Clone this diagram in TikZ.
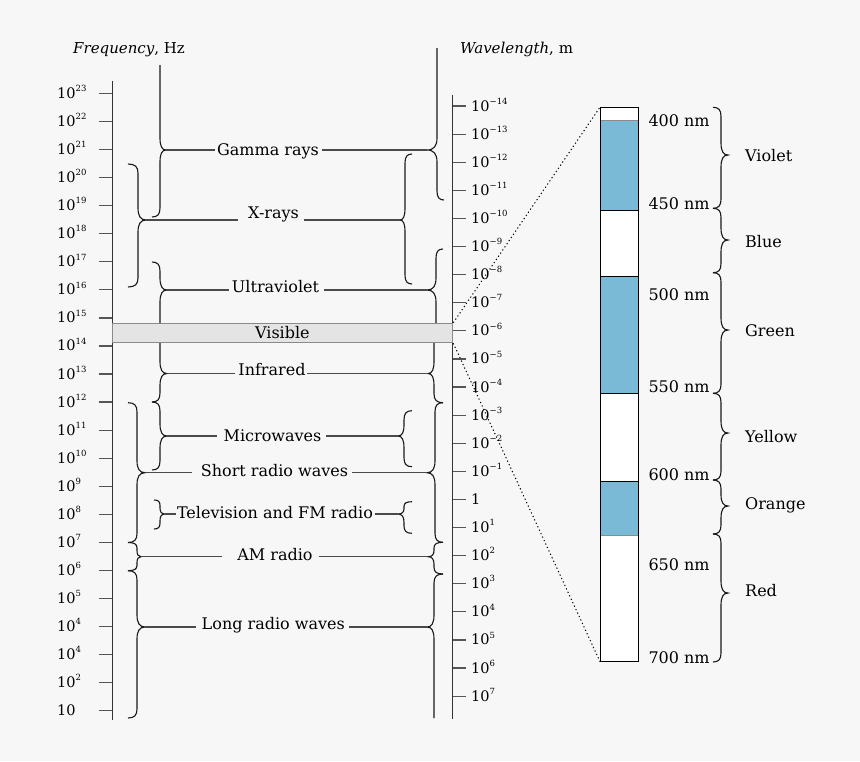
\documentclass[tikz,border=0pt]{standalone}
\usepackage{fontspec}
\setmainfont{DejaVu Serif}
\definecolor{bgcol}{HTML}{F7F7F7}
\definecolor{vblue}{HTML}{7BBAD6}
\definecolor{bandgray}{HTML}{E4E4E4}
\definecolor{bandline}{HTML}{8A8A8A}
\definecolor{linegray}{HTML}{4A4A4A}
\definecolor{tickgray}{HTML}{555555}
\newcommand{\sprs}[1]{\raisebox{0.9ex}{\fontsize{8.5}{9}\selectfont #1}}
% #1 stem x, #2 top y, #3 bottom y, #4 tip y, #5 side (+1 tip right, -1 tip left), #6 tip amplitude, #7 top hook, #8 bottom hook, #9 tip name
\newcommand{\specbr}[9]{%
  \pgfmathsetmacro\bxa{#1-(#5)*(#7)}%
  \pgfmathsetmacro\bxb{#1-(#5)*(#8)}%
  \pgfmathsetmacro\bxt{#1+(#5)*(#6)}%
  \pgfmathsetmacro\bca{#1-(#5)*(#7)*0.3}%
  \pgfmathsetmacro\bcb{#1-(#5)*(#8)*0.3}%
  \pgfmathsetmacro\bcc{#1+(#5)*(#6)*0.3}%
  \pgfmathsetmacro\bct{min(12,(#4-#2)/2.3)}%
  \pgfmathsetmacro\bcd{min(12,(#3-#4)/2.3)}%
  \pgfmathsetmacro\bht{min(9,(#4-#2)/2.6)}%
  \pgfmathsetmacro\bhb{min(9,(#3-#4)/2.6)}%
  \draw[bracestyle] (\bxa,#2) .. controls (\bca,#2) and (#1,#2+\bht*0.3) .. (#1,#2+\bht)
    -- (#1,#4-\bct) .. controls (#1,#4-\bct*0.35) and (\bcc,#4) .. (\bxt,#4) coordinate (#9)
    .. controls (\bcc,#4) and (#1,#4+\bcd*0.35) .. (#1,#4+\bcd)
    -- (#1,#3-\bhb) .. controls (#1,#3-\bhb*0.3) and (\bcb,#3) .. (\bxb,#3);%
}
\begin{document}
\begin{tikzpicture}[x=1pt,y=-1pt,
  bracestyle/.style={line width=1.1pt, black!90},
  conn/.style={line width=1.1pt, linegray},
  axisline/.style={line width=1pt, black!80},
  tickmark/.style={line width=1.2pt, tickgray},
  lbl/.style={font=\fontsize{16}{18}\selectfont, inner sep=0pt},
  num/.style={font=\fontsize{14.5}{16}\selectfont, inner sep=0pt, anchor=base west},
  ttl/.style={font=\fontsize{15}{17}\selectfont, inner sep=0pt, anchor=base west},
  barline/.style={line width=0.9pt, black},
  dotline/.style={line width=1pt, dash pattern=on 1.2pt off 2.6pt},
]
\fill[bgcol] (0,0) rectangle (860,761);
\useasboundingbox (0,0) rectangle (860,761);

% titles
\node[ttl] (ftitle) at (73,53) {\textit{Frequency}, Hz};
\node[ttl] (wtitle) at (460,53) {\textit{Wavelength}, m};

% axes
\draw[axisline] (112,80.7) -- (112,720);
\draw[axisline] (452.7,95) -- (452.7,719);

\foreach \lab [count=\i from 0] in {{10\sprs{23}},{10\sprs{22}},{10\sprs{21}},{10\sprs{20}},{10\sprs{19}},{10\sprs{18}},{10\sprs{17}},{10\sprs{16}},{10\sprs{15}},{10\sprs{14}},{10\sprs{13}},{10\sprs{12}},{10\sprs{11}},{10\sprs{10}},{10\sprs{9}},{10\sprs{8}},{10\sprs{7}},{10\sprs{6}},{10\sprs{5}},{10\sprs{4}},{10\sprs{4}},{10\sprs{2}},{10}} {
  \pgfmathsetmacro\yy{93.5+28.05*\i}
  \draw[tickmark] (99.3,\yy) -- (112,\yy);
  \node[num] (fl\i) at (57,\yy+5) {\lab};
}
\foreach \lab [count=\j from 0] in {{10\sprs{−14}},{10\sprs{−13}},{10\sprs{−12}},{10\sprs{−11}},{10\sprs{−10}},{10\sprs{−9}},{10\sprs{−8}},{10\sprs{−7}},{10\sprs{−6}},{10\sprs{−5}},{10\sprs{−4}},{10\sprs{−3}},{10\sprs{−2}},{10\sprs{−1}},{1},{10\sprs{1}},{10\sprs{2}},{10\sprs{3}},{10\sprs{4}},{10\sprs{5}},{10\sprs{6}},{10\sprs{7}}} {
  \pgfmathsetmacro\yy{106+28.1*\j}
  \draw[tickmark] (452.7,\yy) -- (466,\yy);
  \node[num] (wl\j) at (471,\yy+5) {\lab};
}

% left braces (tip right)
\specbr{160}{65}{217}{150}{1}{6}{0}{8}{gL}
\specbr{138}{164}{287}{220}{1}{8}{10}{10}{xL}
\specbr{160}{262}{330}{290}{1}{7}{8}{0}{uL}
\specbr{160}{335}{402}{373.5}{1}{7}{0}{8}{iL}
\specbr{160}{402}{470}{436}{1}{7}{8}{8}{mL}
\specbr{137}{402.7}{542.5}{472.7}{1}{8}{9}{9}{sL}
\specbr{160}{500}{529}{514}{1}{5}{6}{6}{tL}
\specbr{137}{542.5}{570.7}{556.7}{1}{4}{9}{9}{aL}
\specbr{137}{570.7}{718}{627}{1}{8}{9}{9}{lL}
% right braces (tip left)
\specbr{437}{48}{200}{150}{-1}{10}{0}{7}{gR}
\specbr{405}{154}{284}{220}{-1}{5}{7}{7}{xR}
\specbr{436}{249}{330}{290}{-1}{9}{7}{0}{uR}
\specbr{434}{335}{402.7}{373.5}{-1}{6}{0}{9}{iR}
\specbr{404}{410.7}{466.7}{436}{-1}{6}{8}{8}{mR}
\specbr{435}{402.7}{542.3}{472.7}{-1}{8}{8}{8}{sR}
\specbr{404}{501.7}{533.3}{514}{-1}{6}{8}{8}{tR}
\specbr{434}{542.3}{574}{556.7}{-1}{6}{9}{9}{aR}
\specbr{434}{574}{718}{627}{-1}{7}{9}{0}{lR}

% band labels
\node[lbl, anchor=base] (gamma) at (268,155) {Gamma rays};
\node[lbl, anchor=base] (xray) at (273.5,218.5) {X-rays};
\node[lbl, anchor=base] (uv) at (275.5,292.7) {Ultraviolet};
\node[lbl, anchor=base] (ir) at (272,375) {Infrared};
\node[lbl, anchor=base] (mw) at (272.5,441) {Microwaves};
\node[lbl, anchor=base] (srw) at (274.5,476) {Short radio waves};
\node[lbl, anchor=base] (tv) at (275,518.3) {Television and FM radio};
\node[lbl, anchor=base] (am) at (275,560.7) {AM radio};
\node[lbl, anchor=base] (lrw) at (273.3,629.3) {Long radio waves};

\draw[conn, shorten >=2.4pt] (gL) -- (gL -| gamma.west);
\draw[conn, shorten <=2.7pt] (gamma.east |- gR) -- (gR);
\draw[conn, shorten >=10pt] (xL) -- (xL -| xray.west);
\draw[conn, shorten <=4.7pt] (xray.east |- xR) -- (xR);
\draw[conn, shorten >=3pt] (uL) -- (uL -| uv.west);
\draw[conn, shorten <=5pt] (uv.east |- uR) -- (uR);
\draw[conn, shorten >=3pt] (iL) -- (iL -| ir.west);
\draw[conn, shorten <=1.7pt] (ir.east |- iR) -- (iR);
\draw[conn, shorten >=6.7pt] (mL) -- (mL -| mw.west);
\draw[conn, shorten <=4.7pt] (mw.east |- mR) -- (mR);
\draw[conn, shorten >=8.3pt] (sL) -- (sL -| srw.west);
\draw[conn, shorten <=3.7pt] (srw.east |- sR) -- (sR);
\draw[conn, shorten >=0.5pt] (tL) -- (tL -| tv.west);
\draw[conn, shorten <=2pt] (tv.east |- tR) -- (tR);
\draw[conn, shorten >=15pt] (aL) -- (aL -| am.west);
\draw[conn, shorten <=6pt] (am.east |- aR) -- (aR);
\draw[conn, shorten >=6pt] (lL) -- (lL -| lrw.west);
\draw[conn, shorten <=4pt] (lrw.east |- lR) -- (lR);

% visible band
\node[draw=bandline, fill=bandgray, line width=1.2pt, minimum width=340.6pt, minimum height=19.4pt, inner sep=0pt, font=\fontsize{16}{18}\selectfont] (vis) at (282.4,333) {Visible};

% colour bar
\fill[white] (600.7,107.3) rectangle (638.3,661.7);
\fill[vblue] (600.7,120) rectangle (638.3,210);
\fill[vblue] (600.7,276) rectangle (638.3,393.3);
\fill[vblue] (600.7,481) rectangle (638.3,535);
\draw[barline, bandline] (600.7,120) -- (638.3,120);
\foreach \yy in {210,276,393.3,481} \draw[barline] (600.7,\yy) -- (638.3,\yy);
\draw[barline, bandline] (600.7,535) -- (638.3,535);
\node[draw, line width=0.9pt, minimum width=37.6pt, minimum height=554.4pt, inner sep=0pt] (bar) at (619.5,384.5) {};

\draw[dotline] (vis.north east) -- (bar.north west);
\draw[dotline] (vis.south east) -- (bar.south west);

% wavelength labels
\node[lbl, anchor=base west] (n400) at (648.3,126) {400 nm};
\node[lbl, anchor=base west] (n450) at (648.3,209.3) {450 nm};
\node[lbl, anchor=base west] (n500) at (648.3,300) {500 nm};
\node[lbl, anchor=base west] (n550) at (648.3,392.7) {550 nm};
\node[lbl, anchor=base west] (n600) at (648.3,480.7) {600 nm};
\node[lbl, anchor=base west] (n650) at (648.3,570) {650 nm};
\node[lbl, anchor=base west] (n700) at (648.3,663.3) {700 nm};

% colour braces
\specbr{721}{107.3}{208.3}{155}{1}{7}{8}{8}{cV}
\specbr{721}{208.3}{272.7}{240}{1}{7}{8}{8}{cB}
\specbr{721}{272.7}{393.3}{330}{1}{7}{8}{8}{cG}
\specbr{721}{393.3}{480}{433}{1}{7}{8}{8}{cY}
\specbr{721}{480}{534}{506}{1}{7}{8}{8}{cO}
\specbr{721}{534}{662}{593}{1}{7}{8}{8}{cR}

\node[lbl, anchor=base west] (violet) at (745,161) {Violet};
\node[lbl, anchor=base west] (blue) at (745,247.3) {Blue};
\node[lbl, anchor=base west] (green) at (745,336) {Green};
\node[lbl, anchor=base west] (yellow) at (745,442.3) {Yellow};
\node[lbl, anchor=base west] (orange) at (745,509.3) {Orange};
\node[lbl, anchor=base west] (red) at (745,596) {Red};
\end{tikzpicture}
\end{document}
